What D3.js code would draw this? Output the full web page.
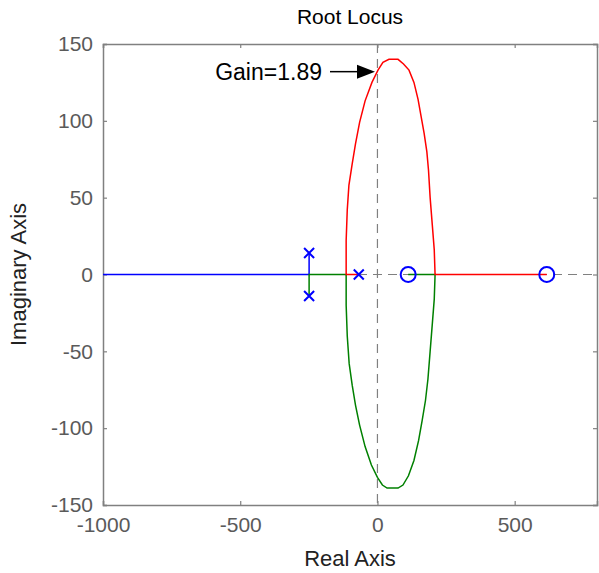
<!DOCTYPE html>
<html>
<head>
<meta charset="utf-8">
<script src="https://d3js.org/d3.v7.min.js"></script>
<style>
  body { margin: 0; background: #fff; }
  svg { display: block; font-family: "Liberation Sans", Arial, sans-serif; }
</style>
</head>
<body>
<div id="chart"></div>
<script>
// axis ticks
var xTicks = [-1000, -500, 0, 500];
var yTicks = [150, 100, 50, 0, -50, -100, -150];

// open-loop poles and zeros
var poles = [[-249, 14], [-249, -14], [-68, 0]];
var zeros = [[112, 0], [617, 0]];

// branch 1 (blue): upper complex pole -> real axis -> -inf
var branchBlue = [[-249, 14], [-249, 0], [-1000, 0]];

// branch 2 (green): lower complex pole -> break-in -> lower arc -> zero at 112
var branchGreen = [
  [-249, -14], [-249, 0], [-114, 0], [-114, -20], [-110, -40], [-103, -58],
  [-92, -72], [-80, -85], [-65, -98], [-45, -112], [-22, -124], [0, -132],
  [18, -137], [35, -139], [75, -139], [93, -137], [113, -131], [133, -121],
  [150, -108], [163, -95], [175, -82], [184, -68], [192, -50], [200, -32],
  [207, -16], [210, 0], [112, 0]
];

// branch 3 (red): real pole -> breakaway -> upper arc -> zero at 617
var branchRed = [
  [-68, 0], [-114, 0], [-114, 22], [-110, 42], [-104, 58], [-92, 72],
  [-80, 85], [-65, 99], [-45, 113], [-20, 125], [2, 133], [20, 138], [42, 140],
  [75, 140], [95, 137], [115, 133], [133, 125], [148, 114], [160, 102], [170, 92],
  [180, 80], [186, 68], [192, 50], [200, 32], [207, 16], [210, 0], [617, 0]
];

var gainLabel = "Gain=1.89";
var gainPoint = [-9, 132];

var width = 599, height = 573;
var margin = {left: 103, right: 2, top: 44, bottom: 68};

var svg = d3.select("#chart").append("svg")
  .attr("width", width)
  .attr("height", height);

var x = d3.scaleLinear().domain([-1000, 800]).range([margin.left, width - margin.right]);
var y = d3.scaleLinear().domain([-150, 150]).range([height - margin.bottom, margin.top]);

var axisColor = "#808080", textColor = "#5a5a5a";

// dashed zero lines
svg.append("line")
  .attr("x1", x(0)).attr("x2", x(0))
  .attr("y1", y(150)).attr("y2", y(-150))
  .attr("stroke", "#808080").attr("stroke-width", 1.2)
  .attr("stroke-dasharray", "9,6");
svg.append("line")
  .attr("x1", x(-1000)).attr("x2", x(800))
  .attr("y1", y(0)).attr("y2", y(0))
  .attr("stroke", "#808080").attr("stroke-width", 1.2)
  .attr("stroke-dasharray", "9,6");

// axes (ticks inward on all four sides)
var gx = svg.append("g").attr("transform", "translate(0," + y(-150) + ")")
  .call(d3.axisBottom(x).tickValues(xTicks).tickSize(-4).tickPadding(12).tickFormat(d3.format("d")));
var gxt = svg.append("g").attr("transform", "translate(0," + y(150) + ")")
  .call(d3.axisTop(x).tickValues(xTicks).tickSize(-4).tickFormat(""));
var gy = svg.append("g").attr("transform", "translate(" + x(-1000) + ",0)")
  .call(d3.axisLeft(y).tickValues(yTicks).tickSize(-4).tickPadding(10).tickFormat(d3.format("d")));
var gyr = svg.append("g").attr("transform", "translate(" + x(800) + ",0)")
  .call(d3.axisRight(y).tickValues(yTicks).tickSize(-4).tickFormat(""));

[gx, gxt, gy, gyr].forEach(function(g) {
  g.select(".domain").attr("stroke", axisColor).attr("stroke-width", 1.5);
  g.selectAll(".tick line").attr("stroke", axisColor).attr("stroke-width", 1.2);
  g.selectAll("text").attr("fill", textColor)
    .style("font-size", "21px")
    .style("font-family", "'Liberation Sans', Arial, sans-serif");
});
gx.selectAll("text").text(function(d) { return d < 0 ? "-" + Math.abs(d) : d; });
gy.selectAll("text").text(function(d) { return d < 0 ? "-" + Math.abs(d) : d; });

// root locus branches
var line = d3.line().x(function(d) { return x(d[0]); }).y(function(d) { return y(d[1]); });

svg.append("path").datum(branchBlue).attr("d", line)
  .attr("fill", "none").attr("stroke", "#0000ff").attr("stroke-width", 1.5);
svg.append("path").datum(branchGreen).attr("d", line)
  .attr("fill", "none").attr("stroke", "#008000").attr("stroke-width", 1.5);
svg.append("path").datum(branchRed).attr("d", line)
  .attr("fill", "none").attr("stroke", "#ff0000").attr("stroke-width", 1.5);

// pole markers (x)
var s = 5;
poles.forEach(function(p) {
  var cx = x(p[0]), cy = y(p[1]);
  svg.append("path")
    .attr("d", "M" + (cx - s) + "," + (cy - s) + "L" + (cx + s) + "," + (cy + s) +
               "M" + (cx - s) + "," + (cy + s) + "L" + (cx + s) + "," + (cy - s))
    .attr("stroke", "#0000ff").attr("stroke-width", 2).attr("fill", "none");
});

// zero markers (o)
svg.selectAll("circle.zero").data(zeros).enter().append("circle")
  .attr("class", "zero")
  .attr("cx", function(d) { return x(d[0]); })
  .attr("cy", function(d) { return y(d[1]); })
  .attr("r", 7.5)
  .attr("fill", "none").attr("stroke", "#0000ff").attr("stroke-width", 2);

// gain annotation with arrow
var tipX = x(gainPoint[0]), tipY = y(gainPoint[1]);
svg.append("line")
  .attr("x1", tipX - 45).attr("x2", tipX - 16)
  .attr("y1", tipY).attr("y2", tipY)
  .attr("stroke", "#000").attr("stroke-width", 1.5);
svg.append("path")
  .attr("d", "M" + tipX + "," + tipY + "L" + (tipX - 18) + "," + (tipY - 7) + "L" + (tipX - 18) + "," + (tipY + 7) + "Z")
  .attr("fill", "#000");
svg.append("text")
  .attr("x", tipX - 53).attr("y", tipY + 8)
  .attr("text-anchor", "end")
  .style("font-size", "23px")
  .attr("fill", "#000")
  .text(gainLabel);

// title and axis labels
var cx = (x(-1000) + x(800)) / 2;
svg.append("text").attr("x", cx).attr("y", 24)
  .attr("text-anchor", "middle").style("font-size", "21px").attr("fill", "#000")
  .text("Root Locus");
svg.append("text").attr("x", cx).attr("y", 566)
  .attr("text-anchor", "middle").style("font-size", "22px").attr("fill", "#222")
  .text("Real Axis");
svg.append("text")
  .attr("transform", "translate(26," + y(0) + ") rotate(-90)")
  .attr("text-anchor", "middle").style("font-size", "22px").attr("fill", "#222")
  .text("Imaginary Axis");
</script>
</body>
</html>
